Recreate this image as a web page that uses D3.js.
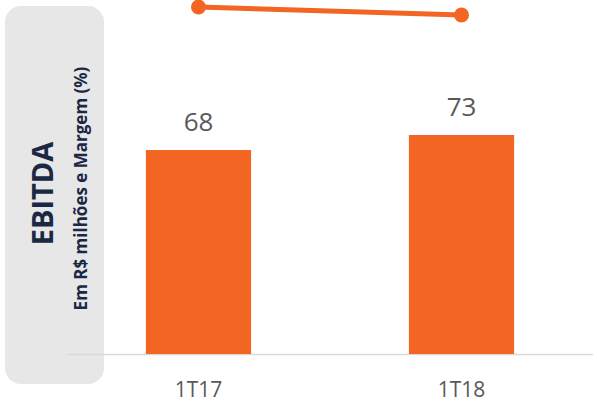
<!DOCTYPE html>
<html>
<head>
<meta charset="utf-8">
<script src="https://cdn.jsdelivr.net/npm/d3@7"></script>
<style>
  body { margin: 0; background: #fff; }
  svg { display: block; font-family: "Open Sans", sans-serif; }
</style>
</head>
<body>
<svg id="chart" width="597" height="404"></svg>
<script>
// chart data
var categories = ["1T17", "1T18"];
var ebitda = [68, 73];          // R$ milhões
var margem = [24.6, 23.8];      // %, labels cut off in source

var svg = d3.select("#chart");
var orange = "#f26522";
var navy = "#1a2844";

// side panel
svg.append("rect")
  .attr("x", 5).attr("y", 6)
  .attr("width", 99).attr("height", 378)
  .attr("rx", 16).attr("ry", 16)
  .style("fill", "#e7e7e7");

svg.append("text")
  .attr("transform", "translate(53,193.5)rotate(-90)")
  .attr("text-anchor", "middle")
  .style("font-size", "29px")
  .style("font-weight", "bold")
  .style("fill", navy)
  .text("EBITDA");

svg.append("text")
  .attr("transform", "translate(87,188.5)rotate(-90)")
  .attr("text-anchor", "middle")
  .style("font-size", "17px")
  .style("font-weight", "bold")
  .style("fill", navy)
  .text("Em R$ milhões e Margem (%)");

// scales
var x = d3.scalePoint().domain(categories).range([67, 593]).padding(0.5);
var barWidth = x.step() * 0.4;
var y = d3.scaleLinear().domain([0, 100]).range([354, 54]);
var yMargem = d3.scaleLinear().domain([20, 26]).range([53, -7]);

// baseline
svg.append("line")
  .attr("x1", 67).attr("x2", 593)
  .attr("y1", y(0) + 0.5).attr("y2", y(0) + 0.5)
  .style("stroke", "#d9d9d9")
  .style("stroke-width", 1.5);

// bars
svg.selectAll(".bar")
  .data(ebitda)
  .enter()
    .append("rect")
      .classed("bar", true)
      .attr("x", function(d, i) { return x(categories[i]) - barWidth / 2; })
      .attr("y", function(d) { return y(d); })
      .attr("width", barWidth)
      .attr("height", function(d) { return y(0) - y(d); })
      .style("fill", orange);

svg.selectAll(".val")
  .data(ebitda)
  .enter()
    .append("text")
      .classed("val", true)
      .attr("x", function(d, i) { return x(categories[i]); })
      .attr("y", function(d) { return y(d) - 19; })
      .attr("text-anchor", "middle")
      .style("font-size", "26px")
      .style("fill", "#595959")
      .text(function(d) { return d; });

// category labels
svg.selectAll(".cat")
  .data(categories)
  .enter()
    .append("text")
      .classed("cat", true)
      .attr("x", function(d) { return x(d); })
      .attr("y", 397)
      .attr("text-anchor", "middle")
      .style("font-size", "21px")
      .style("fill", "#595959")
      .text(function(d) { return d; });

// margin line
var line = d3.line()
  .x(function(d, i) { return x(categories[i]); })
  .y(function(d) { return yMargem(d); });

svg.append("path")
  .datum(margem)
  .attr("d", line)
  .style("fill", "none")
  .style("stroke", orange)
  .style("stroke-width", 5);

svg.selectAll(".dot")
  .data(margem)
  .enter()
    .append("circle")
      .classed("dot", true)
      .attr("cx", function(d, i) { return x(categories[i]); })
      .attr("cy", function(d) { return yMargem(d); })
      .attr("r", 7.5)
      .style("fill", orange);
</script>
</body>
</html>
